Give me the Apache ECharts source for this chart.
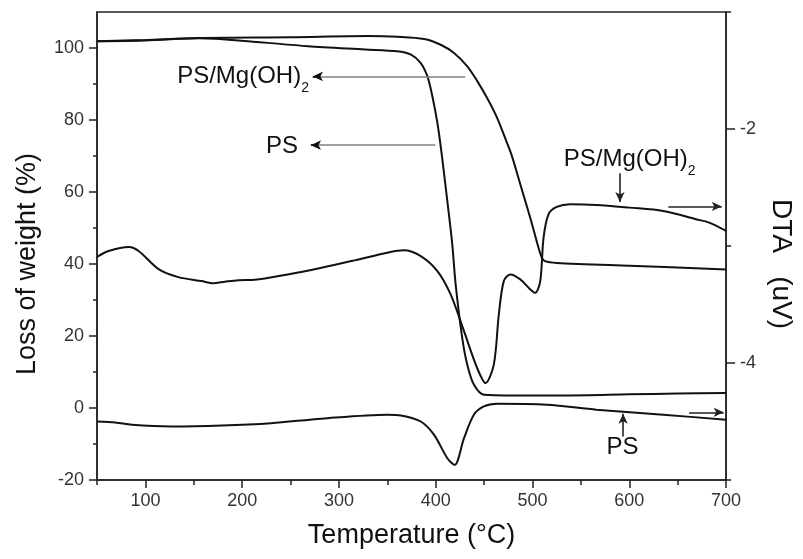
<!DOCTYPE html>
<html>
<head>
<meta charset="utf-8">
<script src="https://cdn.jsdelivr.net/npm/echarts@6/dist/echarts.min.js"></script>
<style>html,body{margin:0;padding:0;background:#fff}#c{width:803px;height:559px}</style>
</head>
<body>
<div id="c"></div>
<script>
// ---- data ----
const psTgT = [50, 100, 155, 206, 268, 327, 360, 374, 384.5, 391.4, 396.5, 401.7, 405.8, 412, 417.1, 420.5, 427.4, 432.5, 439.4, 449.7, 480, 535, 600, 650, 700];
const psTgW = [101.9, 102.2, 102.7, 101.9, 100.5, 99.6, 99.1, 98.2, 95.8, 92.1, 86.6, 79.2, 71.3, 57.4, 45.4, 34.5, 19.4, 12.1, 6.5, 3.7, 3.5, 3.5, 3.8, 4.0, 4.2];

const mgTgT = [50, 100, 155, 250, 330, 360.5, 388, 405.1, 418.9, 432.6, 442.9, 453.1, 463.4, 473.7, 478.8, 487.4, 497.7, 506.3, 509.7, 512.8, 525, 600, 700];
const mgTgW = [101.9, 102.1, 102.8, 103.0, 103.3, 103.1, 102.5, 100.9, 98.6, 94.9, 90.8, 86.1, 80.6, 73.6, 69.9, 62.1, 52.8, 44.4, 41.7, 40.8, 40.3, 39.5, 38.5];

const mgDtaT = [50, 62, 83, 93, 114, 134, 158, 170, 182, 196, 213, 247, 282, 316, 350, 367, 384.5, 401.7, 415.4, 429.2, 442.8, 451.4, 460, 465.2, 470.3, 477.1, 487.4, 497.7, 502.8, 508, 511.4, 516.6, 525, 539, 566, 600, 635, 669, 682.5, 700];
const mgDtaV = [-3.094, -3.043, -3.009, -3.043, -3.200, -3.266, -3.300, -3.318, -3.305, -3.292, -3.289, -3.243, -3.186, -3.123, -3.057, -3.037, -3.086, -3.214, -3.414, -3.728, -4.043, -4.171, -4.014, -3.583, -3.300, -3.243, -3.285, -3.371, -3.400, -3.300, -2.929, -2.728, -2.666, -2.643, -2.649, -2.672, -2.700, -2.771, -2.800, -2.871];

const psDtaT = [50, 69, 86, 127, 179, 230, 282, 350, 364, 384.5, 398.3, 412, 419.5, 429.2, 439.4, 449.7, 463.4, 515, 566, 635, 700];
const psDtaV = [-4.500, -4.508, -4.528, -4.542, -4.534, -4.514, -4.476, -4.442, -4.448, -4.500, -4.614, -4.814, -4.871, -4.643, -4.442, -4.371, -4.348, -4.357, -4.399, -4.442, -4.485];

const xMajor = [100, 200, 300, 400, 500, 600, 700];
const xMinor = [50, 150, 250, 350, 450, 550, 650];
const yMajor = [-20, 0, 20, 40, 60, 80, 100];
const yMinor = [-10, 10, 30, 50, 70, 90];
const dtaMajor = [-4, -2];
const dtaMinor = [-5, -3, -1];

// annotation anchors (temperature, left-axis value): [tail, head, line colour]
const arrows = [
  [[430.5, 92.1], [273, 92.1], '#808080'],
  [[278, 92.1], [273, 92.1], '#111'],
  [[399.6, 73], [271, 73], '#808080'],
  [[276, 73], [271, 73], '#111'],
  [[590.3, 65.2], [590.3, 57.2], '#222'],
  [[640.3, 56], [695.5, 56], '#222'],
  [[593.6, -7.9], [593.6, -1.6], '#222'],
  [[661.8, -1.2], [697.5, -1.2], '#222']
];
const notes = [
  { at: [269, 92.1], text: '{m|PS/Mg(OH)}{s|2}', align: 'right' },
  { at: [257.8, 72.7], text: '{m|PS}', align: 'right' },
  { at: [532.3, 69.1], text: '{m|PS/Mg(OH)}{s|2}', align: 'left' },
  { at: [593, -10.9], text: '{m|PS}', align: 'center' }
];

const zip = (a, b) => a.map((v, i) => [v, b[i]]);
const FONT = 'Liberation Sans, Arial, Helvetica, sans-serif';
const AX = '#222';

function xAx(major) {
  return {
    type: 'value', min: 50, max: 700, interval: 50, position: 'bottom',
    axisLine: { show: major, onZero: false, lineStyle: { color: AX, width: 1.5 } },
    axisTick: { show: true, inside: false, length: major ? 8 : 5, customValues: major ? xMajor : xMinor, lineStyle: { color: AX, width: 1.5 } },
    axisLabel: { show: major, customValues: xMajor, fontSize: 18, color: '#333', margin: 12, fontFamily: FONT },
    splitLine: { show: false },
    name: major ? 'Temperature (°C)' : '', nameLocation: 'middle', nameGap: 42,
    nameTextStyle: { fontSize: 27, color: '#111', fontFamily: FONT }
  };
}

const chart = echarts.init(document.getElementById('c'));
chart.setOption({
  animation: false,
  textStyle: { fontFamily: FONT },
  grid: { left: 97, right: 73, top: 12, bottom: 79, show: true, borderColor: AX, borderWidth: 1.5, backgroundColor: 'transparent' },
  xAxis: [xAx(true), xAx(false)],
  yAxis: [
    {
      type: 'value', min: -20, max: 110, interval: 10, position: 'left',
      axisLine: { show: true, onZero: false, lineStyle: { color: AX, width: 1.5 } },
      axisTick: { show: true, length: 8, customValues: yMajor, lineStyle: { color: AX, width: 1.5 } },
      axisLabel: { customValues: yMajor, fontSize: 18, color: '#333', margin: 13 },
      splitLine: { show: false },
      name: 'Loss of weight (%)', nameLocation: 'middle', nameGap: 56,
      nameTextStyle: { fontSize: 27, color: '#111', padding: [0, 36, 0, 0] }
    },
    {
      type: 'value', min: -20, max: 110, interval: 10, position: 'left',
      axisLine: { show: false },
      axisTick: { show: true, length: 4, customValues: yMinor, lineStyle: { color: AX, width: 1.5 } },
      axisLabel: { show: false }, splitLine: { show: false }
    },
    {
      type: 'value', min: -5, max: -1, interval: 1, position: 'right',
      axisLine: { show: true, onZero: false, lineStyle: { color: AX, width: 1.5 } },
      axisTick: { show: true, length: 9, customValues: dtaMajor, lineStyle: { color: AX, width: 1.5 } },
      axisLabel: { customValues: dtaMajor, fontSize: 18, color: '#333', margin: 14 },
      splitLine: { show: false },
      name: 'DTA   (uV)', nameLocation: 'middle', nameGap: 40, nameRotate: -90,
      nameTextStyle: { fontSize: 28, color: '#111', padding: [0, 0, 0, 36] }
    },
    {
      type: 'value', min: -5, max: -1, interval: 1, position: 'right',
      axisLine: { show: false },
      axisTick: { show: true, length: 5, customValues: dtaMinor, lineStyle: { color: AX, width: 1.5 } },
      axisLabel: { show: false }, splitLine: { show: false }
    }
  ],
  series: [
    {
      name: 'PS TG', type: 'line', xAxisIndex: 0, yAxisIndex: 0, data: zip(psTgT, psTgW),
      showSymbol: false, smooth: 0.3, lineStyle: { color: '#111', width: 2 }, silent: true,
      markLine: {
        silent: true, symbol: ['none', 'arrow'], symbolSize: [7, 10], label: { show: false },
        data: arrows.map(a => [
          { coord: a[0], lineStyle: { color: a[2], width: 1.6, type: 'solid' }, itemStyle: { color: a[2] === '#808080' ? '#808080' : '#111' } },
          { coord: a[1] }
        ])
      },
      markPoint: {
        silent: true, symbol: 'rect', symbolSize: 0,
        data: notes.map(n => ({
          coord: n.at,
          label: {
            show: true, position: 'inside', align: n.align, verticalAlign: 'middle',
            formatter: n.text,
            rich: {
              m: { fontSize: 24, color: '#111', lineHeight: 38, fontFamily: FONT },
              s: { fontSize: 14, color: '#111', lineHeight: 14, verticalAlign: 'bottom', fontFamily: FONT }
            }
          }
        }))
      }
    },
    {
      name: 'PS/Mg(OH)2 TG', type: 'line', xAxisIndex: 0, yAxisIndex: 0, data: zip(mgTgT, mgTgW),
      showSymbol: false, smooth: 0.3, lineStyle: { color: '#111', width: 2 }, silent: true
    },
    {
      name: 'PS/Mg(OH)2 DTA', type: 'line', xAxisIndex: 0, yAxisIndex: 2, data: zip(mgDtaT, mgDtaV),
      showSymbol: false, smooth: 0.3, lineStyle: { color: '#111', width: 2 }, silent: true
    },
    {
      name: 'PS DTA', type: 'line', xAxisIndex: 0, yAxisIndex: 2, data: zip(psDtaT, psDtaV),
      showSymbol: false, smooth: 0.3, lineStyle: { color: '#111', width: 2 }, silent: true
    }
  ]
});
</script>
</body>
</html>
